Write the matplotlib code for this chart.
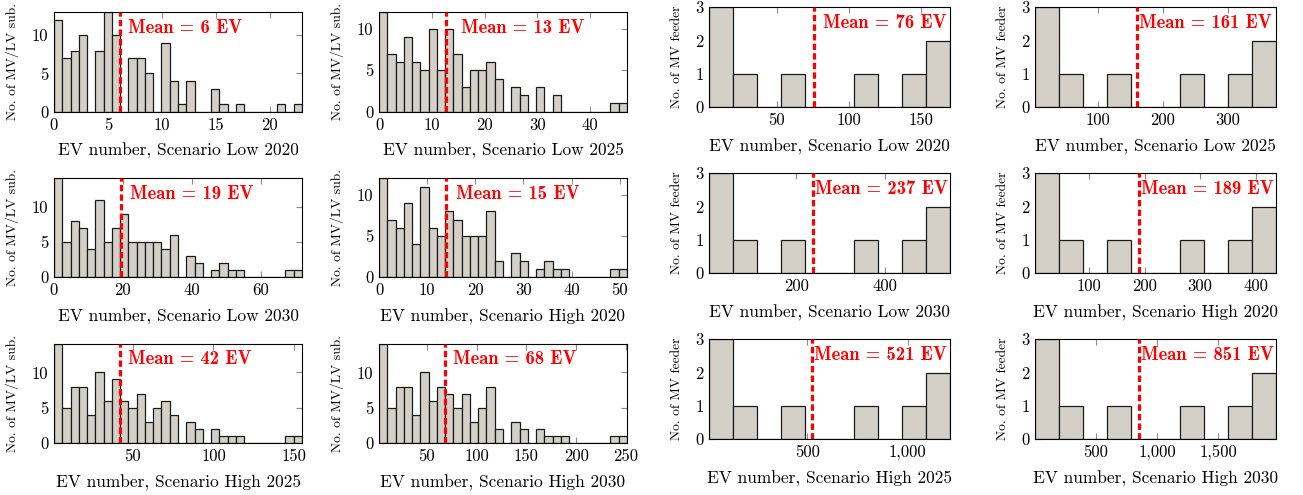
import numpy as np
import matplotlib
matplotlib.use("Agg")
import matplotlib.pyplot as plt
from matplotlib.ticker import MultipleLocator, FuncFormatter
from matplotlib.transforms import offset_copy

# ---------------- data ----------------
scenarios = ["Low 2020", "Low 2025", "Low 2030", "High 2020", "High 2025", "High 2030"]

# MV/LV substations: 30-bin histograms
lv_low2020 = [12, 7, 8, 10, 0, 8, 13, 10, 0, 7, 7, 5, 0, 9, 4, 1, 4, 0, 0, 3, 1, 0, 1, 0, 0, 0, 0, 1, 0, 1]
lv_low2025 = [12, 7, 6, 9, 6, 5, 10, 5, 10, 7, 3, 5, 5, 6, 4, 0, 3, 2, 0, 3, 0, 2, 0, 0, 0, 0, 0, 0, 1, 1]
lv_low2030 = [14, 5, 8, 7, 4, 11, 5, 7, 9, 5, 5, 5, 5, 4, 6, 0, 3, 2, 0, 1, 2, 1, 1, 0, 0, 0, 0, 0, 1, 1]
lv_high2020 = [12, 7, 6, 9, 4, 11, 6, 5, 8, 7, 5, 5, 5, 8, 2, 0, 3, 2, 0, 1, 2, 1, 1, 0, 0, 0, 0, 0, 1, 1]
lv_high2025 = [14, 5, 8, 8, 4, 10, 6, 9, 6, 5, 7, 3, 5, 6, 4, 0, 3, 2, 0, 2, 1, 1, 1, 0, 0, 0, 0, 0, 1, 1]
lv_high2030 = [14, 5, 8, 8, 4, 10, 6, 8, 7, 5, 7, 3, 5, 8, 2, 0, 3, 2, 0, 2, 1, 1, 1, 0, 0, 0, 0, 0, 1, 1]
lv_counts = [lv_low2020, lv_low2025, lv_low2030, lv_high2020, lv_high2025, lv_high2030]
lv_min = [0, 0, 0, 0, 1, 2]
lv_max = [23, 47, 72, 51.5, 155, 251]
lv_mean_pos = [6.1, 12.7, 19.5, 14.0, 42, 68]
lv_mean_label = [6, 13, 19, 15, 42, 68]
lv_tick_step = [5, 10, 20, 10, 50, 50]

# MV feeders: 10-bin histograms
fd_low2020 = [3, 1, 0, 1, 0, 0, 1, 0, 1, 2]
fd_low2025 = [3, 1, 0, 1, 0, 0, 1, 0, 1, 2]
fd_low2030 = [3, 1, 0, 1, 0, 0, 1, 0, 1, 2]
fd_high2020 = [3, 1, 0, 1, 0, 0, 1, 0, 1, 2]
fd_high2025 = [3, 1, 0, 1, 0, 0, 1, 0, 1, 2]
fd_high2030 = [3, 1, 0, 1, 0, 0, 1, 0, 1, 2]
fd_counts = [fd_low2020, fd_low2025, fd_low2030, fd_high2020, fd_high2025, fd_high2030]
fd_min = [3, 4, 4, 2, 10, 2]
fd_max = [170, 374, 546, 437, 1210, 1971]
fd_mean = [76, 161, 237, 189, 521, 851]
fd_tick_step = [50, 100, 200, 100, 500, 500]

# ---------------- style ----------------
W, H = 1303, 495
BAR = "#d4d0c8"
TICKC = "#8c8c8c"
FONT = "cmr10"
BFONT = "cmb10"
plt.rcParams["axes.formatter.use_mathtext"] = True
plt.rcParams["font.family"] = FONT

fig = plt.figure(figsize=(W / 100, H / 100), dpi=100)


def add_ax(left, top, right, bottom):
    return fig.add_axes([left / W, 1 - bottom / H, (right - left) / W, (bottom - top) / H])


lv_cols = [(54, 302), (379, 627)]
lv_rows = [(12.3, 111.7), (178.3, 277.3), (344, 443.3)]
fd_cols = [(709, 950), (1035, 1276)]
fd_rows = [(7.3, 107.3), (173.3, 273.3), (339.3, 439.3)]

thousands = FuncFormatter(lambda v, p: f"{v:,.0f}")


def draw(ax, counts, xmin, xmax, mpos, mlabel, step, xlabel, ylabel, ystep, ymax, text_dx):
    n = len(counts)
    edges = np.linspace(xmin, xmax, n + 1)
    centers = 0.5 * (edges[:-1] + edges[1:])
    ax.hist(centers, bins=edges, weights=counts, color=BAR, edgecolor="#1a1a1a", linewidth=0.9, zorder=2)
    ax.set_xlim(xmin, xmax)
    ax.set_ylim(0, ymax)
    ax.axvline(mpos, color="red", linewidth=2.3, dashes=(2.0, 1.0), zorder=3)
    tr = offset_copy(ax.get_xaxis_transform(), fig=fig, x=text_dx, y=0, units="points")
    ax.text(mpos, 0.845, f"Mean = {mlabel} EV", transform=tr, color="red",
            fontsize=13.4, family=BFONT, ha="left", va="center", zorder=4)
    ax.xaxis.set_major_locator(MultipleLocator(step))
    ax.yaxis.set_major_locator(MultipleLocator(ystep))
    ax.xaxis.set_major_formatter(thousands)
    ax.yaxis.set_major_formatter(FuncFormatter(lambda v, p: f"{v:.0f}"))
    ax.tick_params(direction="in", length=4.5, width=0.8, color=TICKC, top=True, right=True,
                   labelsize=12, pad=4)
    for lab in ax.get_xticklabels() + ax.get_yticklabels():
        lab.set_family(FONT)
    for s in ax.spines.values():
        s.set_linewidth(0.8)
        s.set_color("black")
    ax.set_xlabel(xlabel, fontsize=12.5, family=FONT, labelpad=7.5)
    ax.set_ylabel(ylabel, fontsize=9.7, family=FONT, labelpad=9)


lv_text_dx = [6, 11, 6, 7, 6, 6]
fd_text_dx = [6, 1.5, 1.5, 1.5, 1.5, 1.5]

for i in range(6):
    r, c = divmod(i, 2)
    xl = f"EV number, Scenario {scenarios[i]}"
    ax = add_ax(lv_cols[c][0], lv_rows[r][0], lv_cols[c][1], lv_rows[r][1])
    draw(ax, lv_counts[i], lv_min[i], lv_max[i], lv_mean_pos[i], lv_mean_label[i],
         lv_tick_step[i], xl, "No. of MV/LV sub.", 5, max(lv_counts[i]), lv_text_dx[i])
    ax = add_ax(fd_cols[c][0], fd_rows[r][0], fd_cols[c][1], fd_rows[r][1])
    draw(ax, fd_counts[i], fd_min[i], fd_max[i], fd_mean[i], fd_mean[i],
         fd_tick_step[i], xl, "No. of MV feeder", 1, max(fd_counts[i]), fd_text_dx[i])

fig.savefig("out.png", dpi=100)
